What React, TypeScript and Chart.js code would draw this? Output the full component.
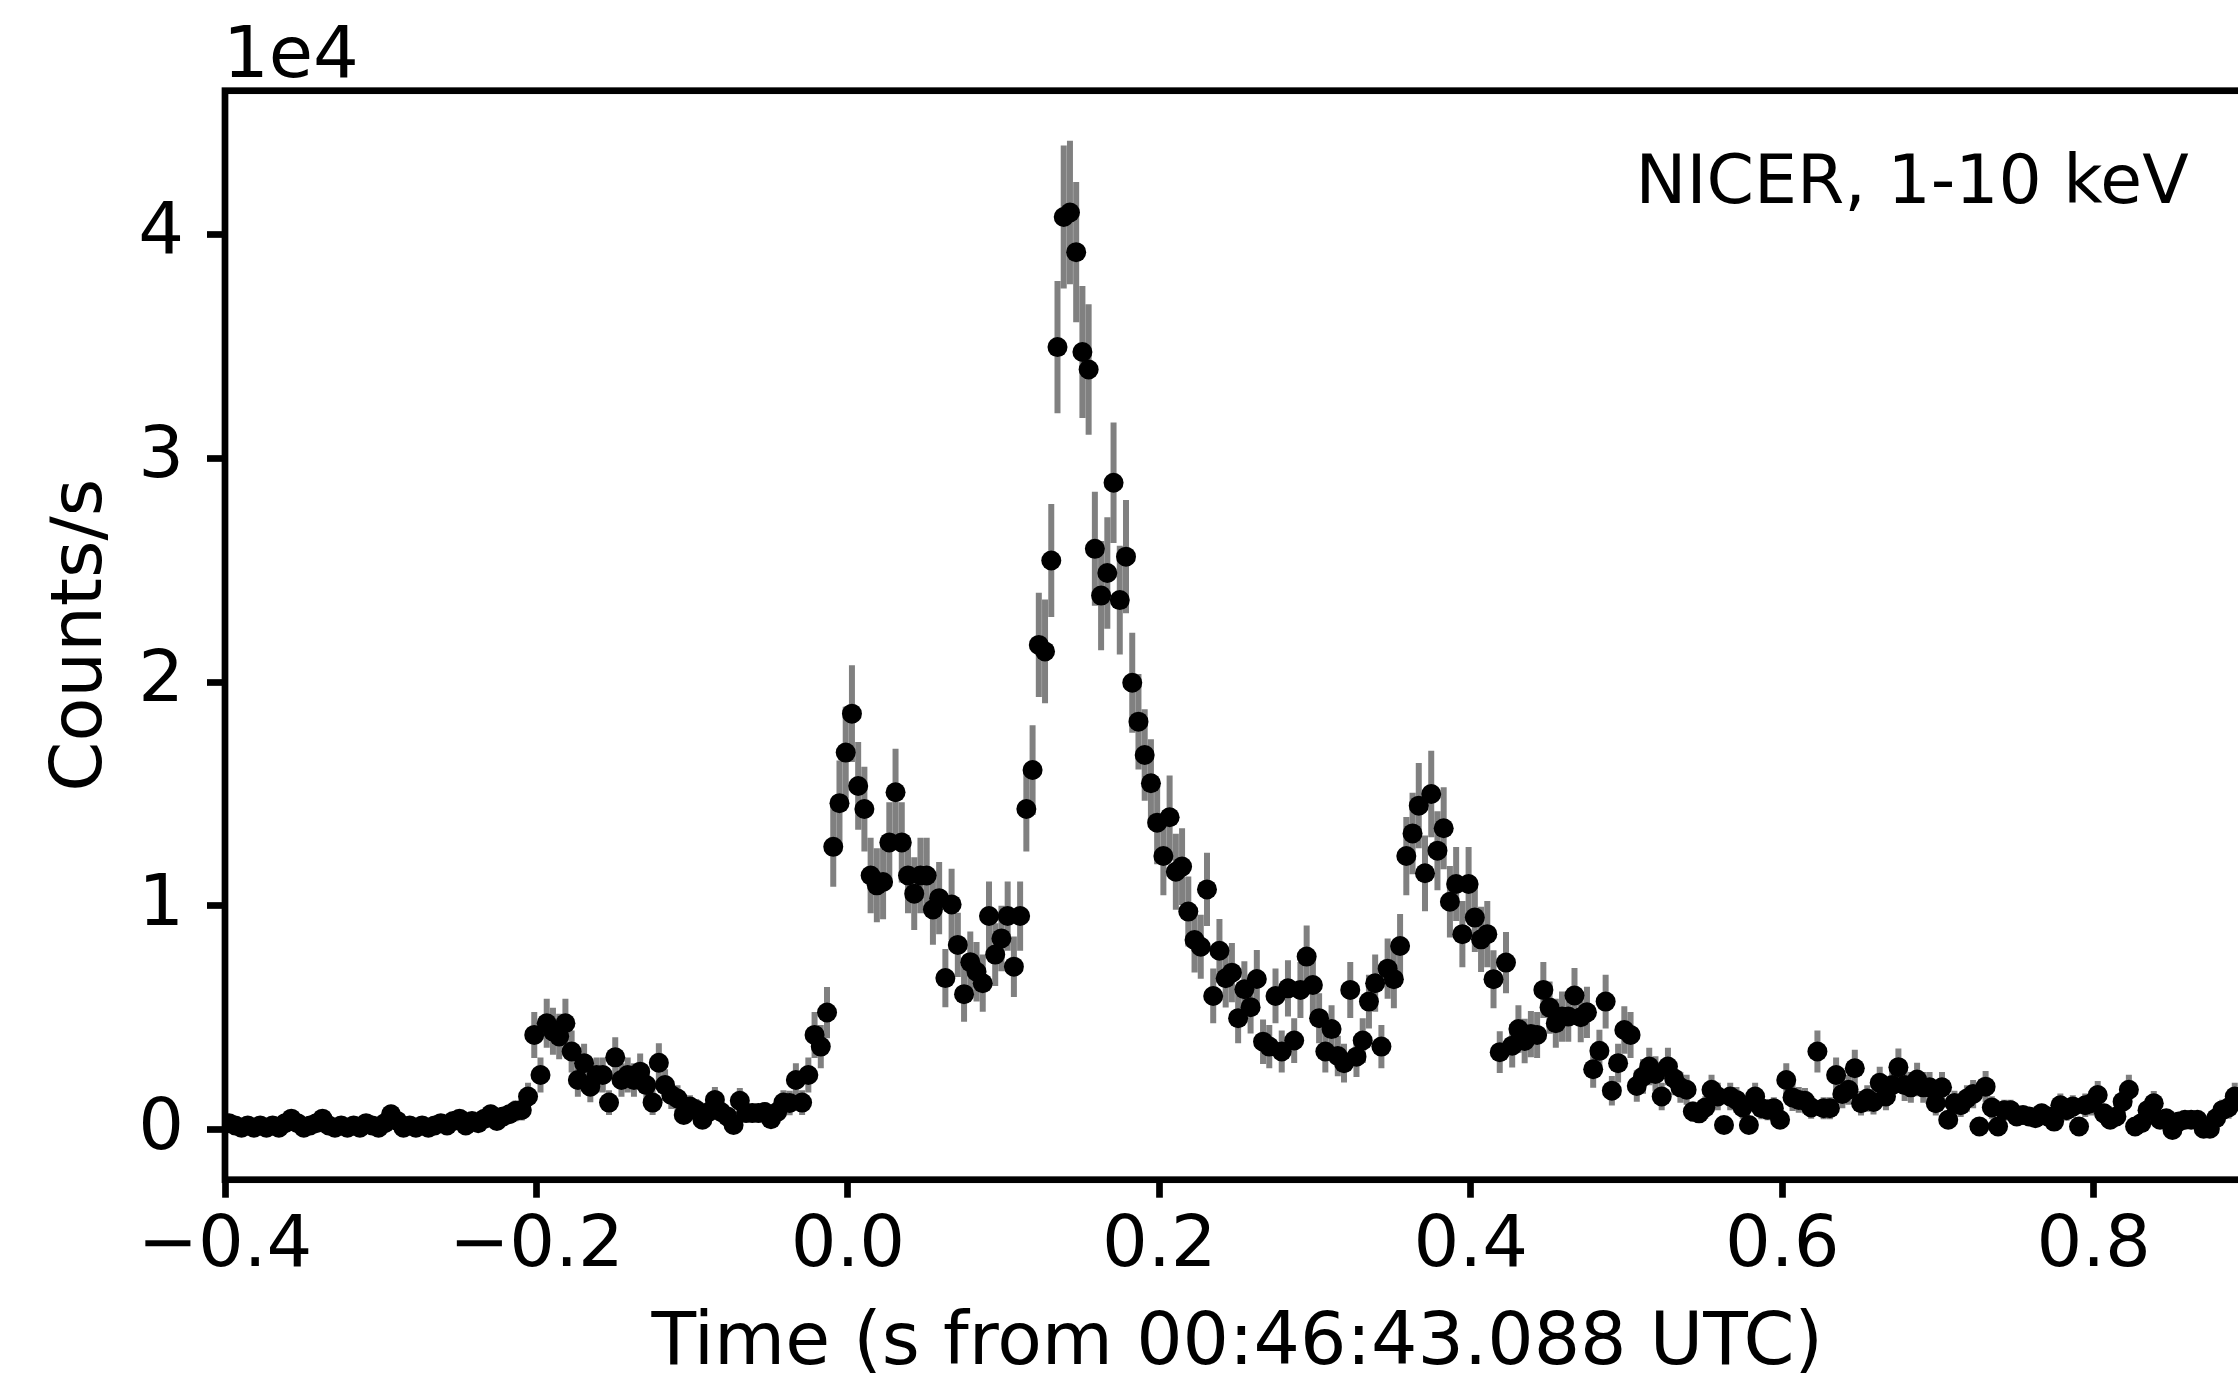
import React, { useEffect, useRef } from "react";
import { Chart, registerables } from "chart.js";

Chart.register(...registerables);

// ---- data (NICER light curve, 4 ms bins) ----
const TIME_START = -0.3974; // centre of the first bin (s)
const BIN_WIDTH = 0.004; // s
const RATE = [
  // -0.3974 ...
  300, 200, 100, 200, 100, 200, 100, 200, 100, 300,
  500, 300, 100, 200, 300, 500, 200, 100, 200, 100,
  200, 100, 300, 200, 100, 300, 700, 400, 100, 200,
  100, 200, 100, 200, 300, 200, 400, 500, 200, 400,
  300, 500, 700, 400, 600, 700, 850, 890, 1490, 4240,
  2450, 4760, 4400, 4170, 4760, 3500, 2230, 2980, 1930, 2450,
  2450, 1220, 3240, 2230, 2450, 2230, 2600, 2000, 1220, 3000,
  2000, 1560, 1400, 670, 1040, 900, 450, 800, 1340, 800,
  600, 220, 1300, 750, 750, 750, 800, 480, 800, 1220,
  1200, 2230, 1220, 2450, 4240, 3720, 5240, 12640, 14590, 16850,
  // 0.0026 ...
  18590, 15360, 14330, 11360, 10920, 11070, 12840, 15080, 12840, 11360,
  10550, 11360, 11360, 9840, 10350, 6780, 10070, 8260, 6060, 7490,
  7060, 6550, 9550, 7830, 8550, 9550, 7290, 9550, 14330, 16070,
  21660, 21370, 25430, 34960, 40770, 40970, 39200, 34740, 33960, 25950,
  23860, 24870, 28900, 23660, 25600, 19970, 18230, 16740, 15480, 13720,
  12230, 13960, 11530, 11760, 9750, 8480, 8180, 10740, 5980, 8000,
  6770, 7020, 4990, 6280, 5480, 6740, 3940, 3720, 5980, 3500,
  6320, 3990, 6250, 7740, 6470, 4990, 3500, 4500, 3300, 2980,
  6250, 3270, 3990, 5730, 6550, 3720, 7200, 6730, 8210, 12230,
  13240, 14480, 11460, 15000, 12470, 13470, 10190, 10980, 8740, 10980,
  9480, 8510, 8740, 6730, 3470, 7470, 3760, 4500, 3970, 4280,
  4240, 6250, 5460, 4760, 5060, 5060, 6000, 5030, 5250, 2710,
  3530, 5730, 1750, 2980, 4460, 4240, 1960, 2380, 2830, 2500,
  1490, 2830, 2300, 1900, 1790, 820, 740, 1000, 1790, 1490,
  220, 1490, 1340, 1000, 220, 1490, 970, 900, 970, 450,
  2230, 1450, 1340, 1300, 1000, 3500, 970, 970, 2450, 1600,
  1790, 2750, 1190, 1400, 1250, 2100, 1490, 2000, 2800, 2000,
  1900, 2250, 1900, 1900, 1190, 1900, 450, 1200, 1100, 1400,
  1600, 150, 1930, 1000, 150, 880, 880, 600, 670, 600,
  520, 740, 600, 370, 1100, 880, 1040, 150, 1100, 1190,
  1560, 740, 450, 600, 1260, 1790, 150, 300, 880, 1190,
  450, 520, 0, 370, 450, 450, 450, 50, 50, 520,
  880, 1000, 1490, 1400, 1000,
];

const X_MIN = -0.4;
const X_MAX = 0.9;
const Y_MIN = -2225;
const Y_MAX = 46410;
const X_TICKS = [-0.4, -0.2, 0.0, 0.2, 0.4, 0.6, 0.8];
const Y_TICKS = [0, 10000, 20000, 30000, 40000];
const Y_SCALE_FACTOR = 1e4;
const OFFSET_TEXT = "1e4";
const X_LABEL = "Time (s from 00:46:43.088 UTC)";
const Y_LABEL = "Counts/s";
const ANNOTATION = "NICER, 1-10 keV";

// ---- layout / style ----
const CANVAS_W = 2300;
const CANVAS_H = 1375;
const PLOT_LEFT = 225;
const PLOT_RIGHT = 2249.4;
const PLOT_TOP = 90.7;
const PLOT_BOTTOM = 1179.7;
const FONT_FAMILY = "'DejaVu Sans', 'Liberation Sans', sans-serif";
const SPINE_W = 6.7;

const poissonError = (rate: number) => Math.sqrt(Math.max(rate, 0) * BIN_WIDTH) / BIN_WIDTH;

const errorBarPlugin = {
  id: "errorBars",
  beforeDatasetsDraw(chart: any) {
    const { ctx, chartArea: a, scales } = chart;
    const xs = scales.x;
    const ys = scales.y;
    ctx.save();
    ctx.beginPath();
    ctx.rect(a.left, a.top, a.right - a.left, a.bottom - a.top);
    ctx.clip();
    ctx.strokeStyle = "#808080";
    ctx.lineWidth = 6;
    ctx.lineCap = "butt";
    ctx.beginPath();
    RATE.forEach((r, i) => {
      const e = poissonError(r);
      const px = xs.getPixelForValue(TIME_START + i * BIN_WIDTH);
      ctx.moveTo(px, ys.getPixelForValue(r - e));
      ctx.lineTo(px, ys.getPixelForValue(r + e));
    });
    ctx.stroke();
    ctx.restore();
  },
};

const framePlugin = {
  id: "frameAndNotes",
  afterDraw(chart: any) {
    const { ctx, chartArea: a } = chart;
    ctx.save();
    ctx.strokeStyle = "#000";
    ctx.lineWidth = SPINE_W;
    ctx.lineJoin = "miter";
    ctx.strokeRect(a.left, a.top, a.right - a.left, a.bottom - a.top);
    ctx.fillStyle = "#000";
    ctx.textBaseline = "alphabetic";
    ctx.font = `72px ${FONT_FAMILY}`;
    ctx.textAlign = "left";
    ctx.fillText(OFFSET_TEXT, a.left - 2, a.top - 14);
    ctx.font = `68px ${FONT_FAMILY}`;
    ctx.textAlign = "right";
    ctx.fillText(ANNOTATION, a.left + 0.97 * (a.right - a.left), a.top + 112);
    ctx.restore();
  },
};

const fmtX = (v: number) => {
  const s = Math.abs(v) < 1e-9 ? "0.0" : v.toFixed(1);
  return s.replace("-", "\u2212");
};

export default function App() {
  const ref = useRef<HTMLCanvasElement>(null);

  useEffect(() => {
    const canvas = ref.current;
    if (!canvas) return;
    const tickFont = { family: FONT_FAMILY, size: 72 };
    const xTitleFont = { family: FONT_FAMILY, size: 73, lineHeight: 0.8 };
    const yTitleFont = { family: FONT_FAMILY, size: 72, lineHeight: 1 };
    const chart = new Chart(canvas, {
      type: "scatter",
      data: {
        datasets: [
          {
            data: RATE.map((r, i) => ({ x: TIME_START + i * BIN_WIDTH, y: r })),
            pointRadius: 10,
            pointHoverRadius: 10,
            pointBackgroundColor: "#000",
            pointBorderWidth: 0,
            borderWidth: 0,
            showLine: false,
            clip: 0,
          } as any,
        ],
      },
      options: {
        animation: false,
        responsive: false,
        devicePixelRatio: 1,
        events: [],
        layout: {
          padding: { left: 0, top: PLOT_TOP, right: CANVAS_W - PLOT_RIGHT, bottom: 0 },
        },
        plugins: { legend: { display: false }, tooltip: { enabled: false } },
        scales: {
          x: {
            type: "linear",
            position: "bottom",
            min: X_MIN,
            max: X_MAX,
            afterBuildTicks: (s: any) => {
              s.ticks = X_TICKS.map((v) => ({ value: v }));
            },
            afterFit: (s: any) => {
              s.height = CANVAS_H - PLOT_BOTTOM;
            },
            ticks: {
              callback: (v: any) => fmtX(Number(v)),
              font: tickFont,
              color: "#000",
              padding: 6,
              maxRotation: 0,
              minRotation: 0,
              autoSkip: false,
            },
            grid: {
              display: true,
              drawOnChartArea: false,
              drawTicks: true,
              tickLength: 18,
              tickWidth: SPINE_W,
              tickColor: "#000",
              color: "#000",
            },
            border: { display: false },
            title: {
              display: true,
              text: X_LABEL,
              font: xTitleFont,
              color: "#000",
              padding: { top: 0, bottom: 1.2 },
            },
          },
          y: {
            type: "linear",
            position: "left",
            min: Y_MIN,
            max: Y_MAX,
            afterBuildTicks: (s: any) => {
              s.ticks = Y_TICKS.map((v) => ({ value: v }));
            },
            afterFit: (s: any) => {
              s.width = PLOT_LEFT;
            },
            ticks: {
              callback: (v: any) => String(Math.round(Number(v) / Y_SCALE_FACTOR)),
              font: tickFont,
              color: "#000",
              padding: 23,
              autoSkip: false,
            },
            grid: {
              display: true,
              drawOnChartArea: false,
              drawTicks: true,
              tickLength: 18,
              tickWidth: SPINE_W,
              tickColor: "#000",
              color: "#000",
            },
            border: { display: false },
            title: {
              display: true,
              text: Y_LABEL,
              font: yTitleFont,
              color: "#000",
              padding: { top: 46, bottom: 0 },
            },
          },
        },
      } as any,
      plugins: [errorBarPlugin, framePlugin],
    });
    return () => chart.destroy();
  }, []);

  return (
    <div
      style={{
        position: "fixed",
        left: 0,
        top: 0,
        width: "100vw",
        height: "100vh",
        overflow: "hidden",
        background: "#fff",
      }}
    >
      <canvas
        ref={ref}
        width={CANVAS_W}
        height={CANVAS_H}
        style={{ display: "block", width: CANVAS_W, height: CANVAS_H }}
      />
    </div>
  );
}
